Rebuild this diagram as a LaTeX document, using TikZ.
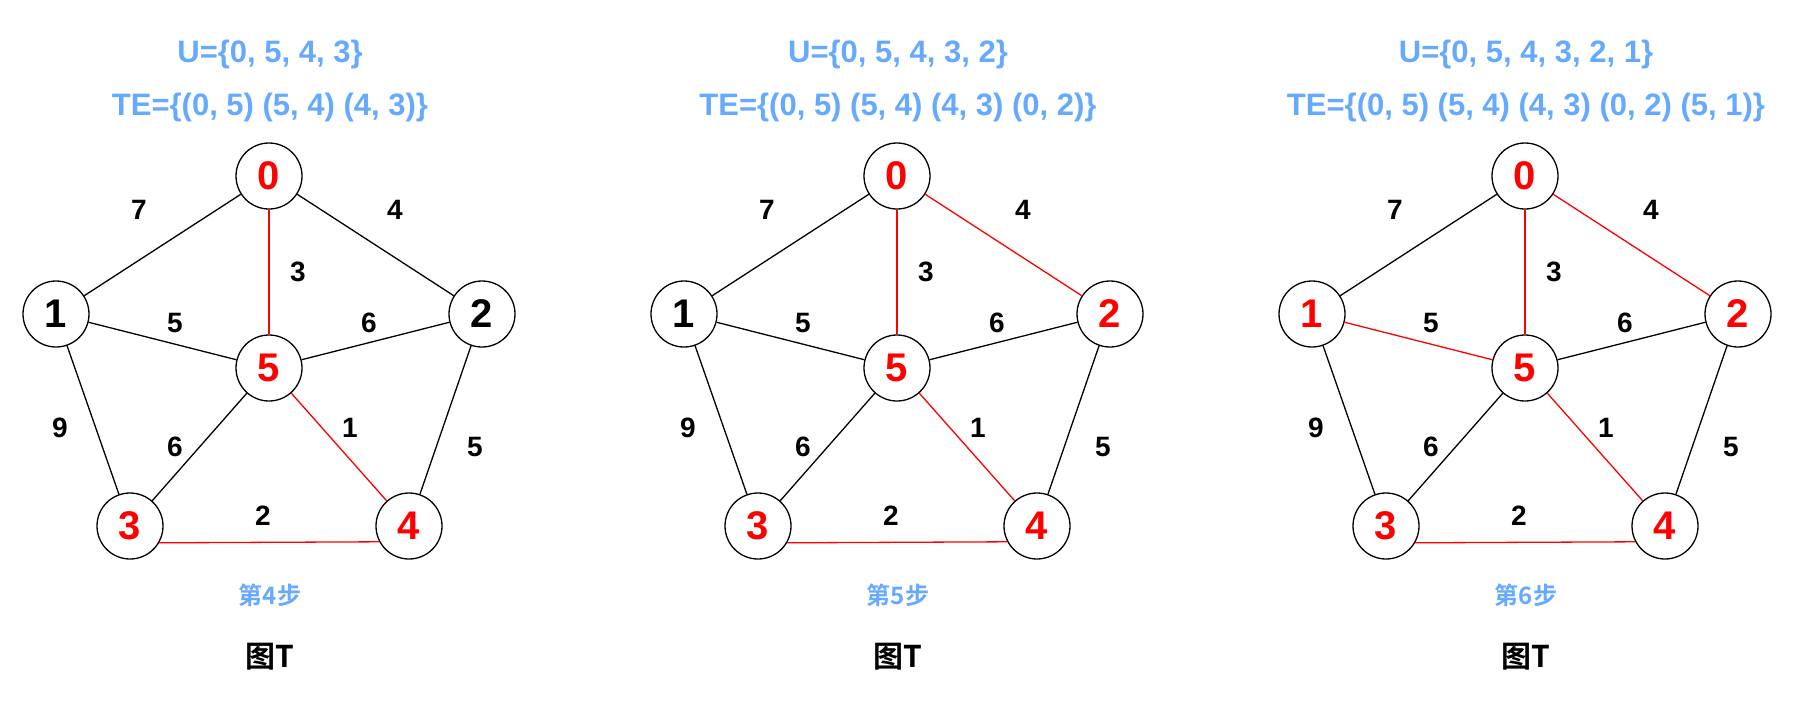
\documentclass[tikz,border=0pt]{standalone}
\usepackage{fontspec}
\setmainfont{Liberation Sans}
\newfontfamily\cjk{Noto Sans CJK SC}[BoldFont={* Bold}]
\definecolor{bl}{HTML}{66AAFF}
\definecolor{rd}{HTML}{FF0000}
\tikzset{v/.style={draw,ellipse,minimum width=66pt,minimum height=66pt,inner sep=0pt,line width=1.3pt,font=\fontsize{40}{40}\selectfont\bfseries},
 e/.style={line width=1.3pt},
 re/.style={line width=1.3pt,draw=rd},
 w/.style={font=\fontsize{28}{28}\selectfont\bfseries},
 ttl/.style={font=\fontsize{31}{31}\selectfont\bfseries,text=bl}}
\usetikzlibrary{shapes.geometric}
\begin{document}
\begin{tikzpicture}[x=1pt,y=-1pt]
\useasboundingbox (0,0) rectangle (1805,707);
\foreach \k/\U/\TE/\st/\rtwo/\rone in {0/{0, 5, 4, 3}/{(0, 5) (5, 4) (4, 3)}/4/0/0,
 1/{0, 5, 4, 3, 2}/{(0, 5) (5, 4) (4, 3) (0, 2)}/5/1/0,
 2/{0, 5, 4, 3, 2, 1}/{(0, 5) (5, 4) (4, 3) (0, 2) (5, 1)}/6/1/1}{
\begin{scope}[xshift=\k*628]
\node[ttl] (u\k) at (270,54) {U=\{\U\}};
\node[ttl] (t\k) at (270,107) {TE=\{\TE\}};
\node[v,text=rd] (n0\k) at (269,176) {0};
\ifnum\rone=1 \node[v,text=rd] (n1\k) at (56,314) {1};\else \node[v] (n1\k) at (56,314) {1};\fi
\ifnum\rtwo=1 \node[v,text=rd] (n2\k) at (482,314) {2};\else \node[v] (n2\k) at (482,314) {2};\fi
\node[v,text=rd] (n5\k) at (269,368) {5};
\node[v,text=rd] (n3\k) at (130,526) {3};
\node[v,text=rd] (n4\k) at (409,526) {4};
\draw[e] (n0\k) -- (n1\k);
\ifnum\rtwo=1 \draw[re] (n0\k) -- (n2\k);\else \draw[e] (n0\k) -- (n2\k);\fi
\draw[re] (n0\k) -- (n5\k);
\ifnum\rone=1 \draw[re] (n1\k) -- (n5\k);\else \draw[e] (n1\k) -- (n5\k);\fi
\draw[e] (n2\k) -- (n5\k);
\draw[e] (n1\k) -- (n3\k);
\draw[e] (n2\k) -- (n4\k);
\draw[e] (n5\k) -- (n3\k);
\draw[re] (n5\k) -- (n4\k);
\draw[re] (n3\k.-30) -- (n4\k.208);
\node[w] (a\k) at (139,210) {7};
\node[w] (b\k) at (395,210) {4};
\node[w] (c\k) at (298,272) {3};
\node[w] (d\k) at (175,323) {5};
\node[w] (f\k) at (369,323) {6};
\node[w] (g\k) at (60,428) {9};
\node[w] (h\k) at (175,447) {6};
\node[w] (i\k) at (350,428) {1};
\node[w] (j\k) at (475,447) {5};
\node[w] (l\k) at (263,516) {2};
\node[font=\cjk\fontsize{24}{24}\selectfont\bfseries,text=bl] (s\k) at (270,595) {第\st 步};
\node[font=\cjk\fontsize{30}{30}\selectfont\bfseries] (p\k) at (270,657) {图T};
\end{scope}}
\end{tikzpicture}
\end{document}
